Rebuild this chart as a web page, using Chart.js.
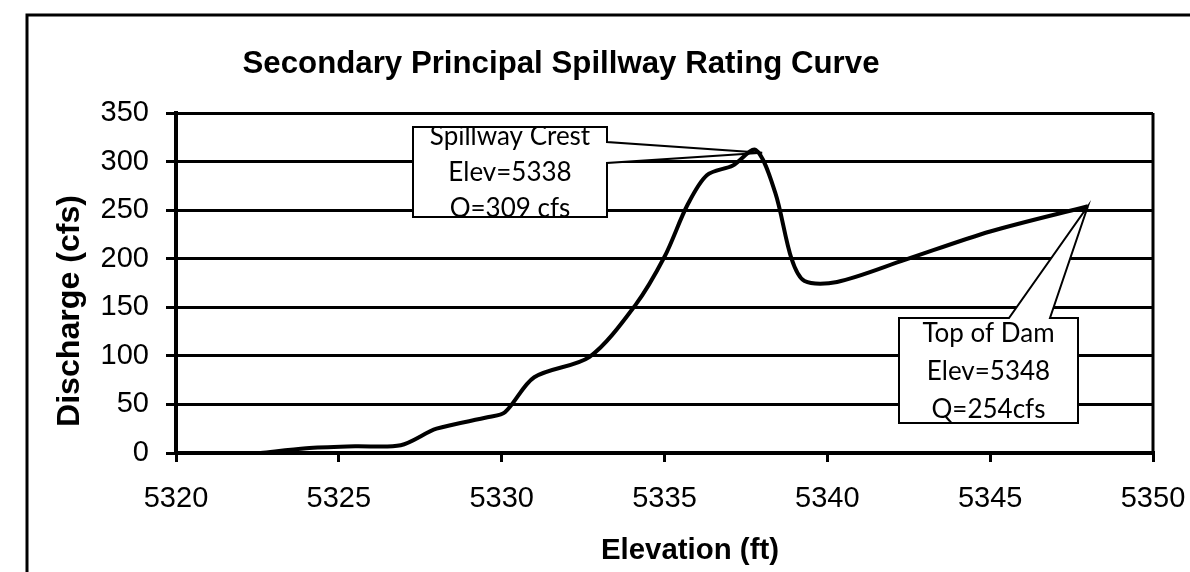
<!DOCTYPE html>
<html>
<head>
<meta charset="utf-8">
<script src="https://cdn.jsdelivr.net/npm/chart.js@4/dist/chart.umd.min.js"></script>
<style>
  html, body { margin: 0; padding: 0; background: #fff; }
  canvas { display: block; }
</style>
</head>
<body>
<canvas id="ratingChart" width="1190" height="572"></canvas>
<script>
// Rating curve
const elevations = [5322.6, 5324.0, 5325.5, 5326.9, 5328.0, 5329.6, 5330.1, 5331.0, 5332.7, 5334.1, 5335.0,
                    5335.7, 5336.3, 5337.1, 5337.8, 5338.4, 5338.9, 5339.3, 5340.3, 5342.4, 5345.0, 5348.0];
const discharges = [0, 5, 7, 8, 25, 37, 42, 78, 99, 152, 202,
                    255, 286, 296, 312, 268, 200, 177, 176, 199, 228, 254];

// axis ranges / tick steps
const xRange = [5320, 5350];
const xStep = 5;
const yRange = [0, 350];
const yStep = 50;

// callout annotations
const calloutLines = [
    ['Spillway Crest', 'Elev=5338', 'Q=309 cfs'],
    ['Top of Dam', 'Elev=5348', 'Q=254cfs']
];
const calloutElev = [5338, 5348];
const calloutQ = [309, 254];

const titleText = 'Secondary Principal Spillway Rating Curve';
const xTitle = 'Elevation (ft)';
const yTitle = 'Discharge (cfs)';

// box layout for the callouts (pixels)
const calloutBoxes = [
    { l: 413, t: 127, r: 607, b: 217, side: 'right', a1: 142, a2: 163, firstLine: 137, lineGap: 36 },
    { l: 899, t: 318, r: 1078, b: 423, side: 'top', a1: 1009, a2: 1050, firstLine: 334, lineGap: 38 }
];

function fitText(ctx, text, cx, cy, width, font) {
    ctx.save();
    ctx.font = font;
    const w = ctx.measureText(text).width;
    ctx.translate(cx, cy);
    ctx.scale(width / w, 1);
    ctx.textAlign = 'center';
    ctx.textBaseline = 'middle';
    ctx.fillText(text, 0, 0);
    ctx.restore();
}

const decorPlugin = {
    id: 'decor',
    beforeDraw(chart) {
        const ctx = chart.ctx;
        ctx.save();
        ctx.fillStyle = '#fff';
        ctx.fillRect(0, 0, chart.width, chart.height);
        ctx.restore();
    },
    beforeDatasetsDraw(chart) {
        const { ctx, chartArea, scales: { x, y } } = chart;
        ctx.save();
        // right border of plot area
        ctx.strokeStyle = '#000';
        ctx.lineWidth = 3;
        ctx.beginPath();
        ctx.moveTo(chartArea.right, chartArea.top);
        ctx.lineTo(chartArea.right, chartArea.bottom);
        ctx.stroke();

        calloutBoxes.forEach((b, i) => {
            const tx = x.getPixelForValue(calloutElev[i]);
            const ty = y.getPixelForValue(calloutQ[i]);
            ctx.beginPath();
            if (b.side === 'right') {
                ctx.moveTo(b.l, b.t);
                ctx.lineTo(b.r, b.t);
                ctx.lineTo(b.r, b.a1);
                ctx.lineTo(tx, ty);
                ctx.lineTo(b.r, b.a2);
                ctx.lineTo(b.r, b.b);
                ctx.lineTo(b.l, b.b);
            } else {
                ctx.moveTo(b.l, b.t);
                ctx.lineTo(b.a1, b.t);
                ctx.lineTo(tx, ty);
                ctx.lineTo(b.a2, b.t);
                ctx.lineTo(b.r, b.t);
                ctx.lineTo(b.r, b.b);
                ctx.lineTo(b.l, b.b);
            }
            ctx.closePath();
            ctx.fillStyle = '#fff';
            ctx.fill();
            ctx.lineWidth = 2;
            ctx.strokeStyle = '#000';
            ctx.stroke();

            ctx.save();
            ctx.beginPath();
            ctx.rect(b.l, b.t, b.r - b.l, b.b - b.t);
            ctx.clip();
            ctx.fillStyle = '#000';
            ctx.font = '26px Lato';
            ctx.textAlign = 'center';
            ctx.textBaseline = 'middle';
            const cx = (b.l + b.r) / 2;
            calloutLines[i].forEach((line, k) => {
                ctx.fillText(line, cx, b.firstLine + k * b.lineGap);
            });
            ctx.restore();
        });
        ctx.restore();
    },
    afterDraw(chart) {
        const ctx = chart.ctx;
        ctx.save();
        // outer frame (left + top only, image is cropped)
        ctx.strokeStyle = '#000';
        ctx.lineWidth = 3;
        ctx.beginPath();
        ctx.moveTo(27, chart.height);
        ctx.lineTo(27, 15);
        ctx.lineTo(chart.width, 15);
        ctx.stroke();

        ctx.fillStyle = '#000';
        fitText(ctx, titleText, 561, 64, 637, 'bold 32px "Liberation Sans"');
        fitText(ctx, xTitle, 690, 551, 178, 'bold 30px "Liberation Sans"');
        ctx.save();
        ctx.translate(70, 311);
        ctx.rotate(-Math.PI / 2);
        fitText(ctx, yTitle, 0, 0, 232, 'bold 32px "Liberation Sans"');
        ctx.restore();
        ctx.restore();
    }
};

const tickFont = { family: '"Liberation Sans", Arial, sans-serif', size: 29 };

new Chart(document.getElementById('ratingChart'), {
    type: 'scatter',
    data: {
        datasets: [{
            data: elevations.map((e, i) => ({ x: e, y: discharges[i] })),
            showLine: true,
            borderColor: '#000',
            borderWidth: 4,
            pointRadius: 0,
            tension: 0.3,
            fill: false
        }]
    },
    options: {
        responsive: false,
        animation: false,
        layout: { padding: { top: 113, right: 37, left: 0, bottom: 0 } },
        plugins: {
            legend: { display: false },
            tooltip: { enabled: false },
            title: { display: false }
        },
        scales: {
            x: {
                type: 'linear',
                min: xRange[0],
                max: xRange[1],
                ticks: {
                    stepSize: xStep,
                    color: '#000',
                    font: tickFont,
                    padding: 20,
                    maxRotation: 0,
                    callback: v => String(v)
                },
                grid: { drawOnChartArea: false, drawTicks: true, tickLength: 9, color: '#000', lineWidth: 3 },
                border: { color: '#000', width: 4 },
                afterFit(s) { s.height = 119; s.paddingRight = 0; s.paddingLeft = 0; }
            },
            y: {
                min: yRange[0],
                max: yRange[1],
                ticks: {
                    stepSize: yStep,
                    color: '#000',
                    font: tickFont,
                    padding: 17,
                    callback: v => String(v)
                },
                grid: { color: '#000', lineWidth: 3, tickLength: 10 },
                border: { color: '#000', width: 4 },
                afterFit(s) { s.width = 176; s.paddingTop = 0; s.paddingBottom = 0; }
            }
        }
    },
    plugins: [decorPlugin]
});
</script>
</body>
</html>
